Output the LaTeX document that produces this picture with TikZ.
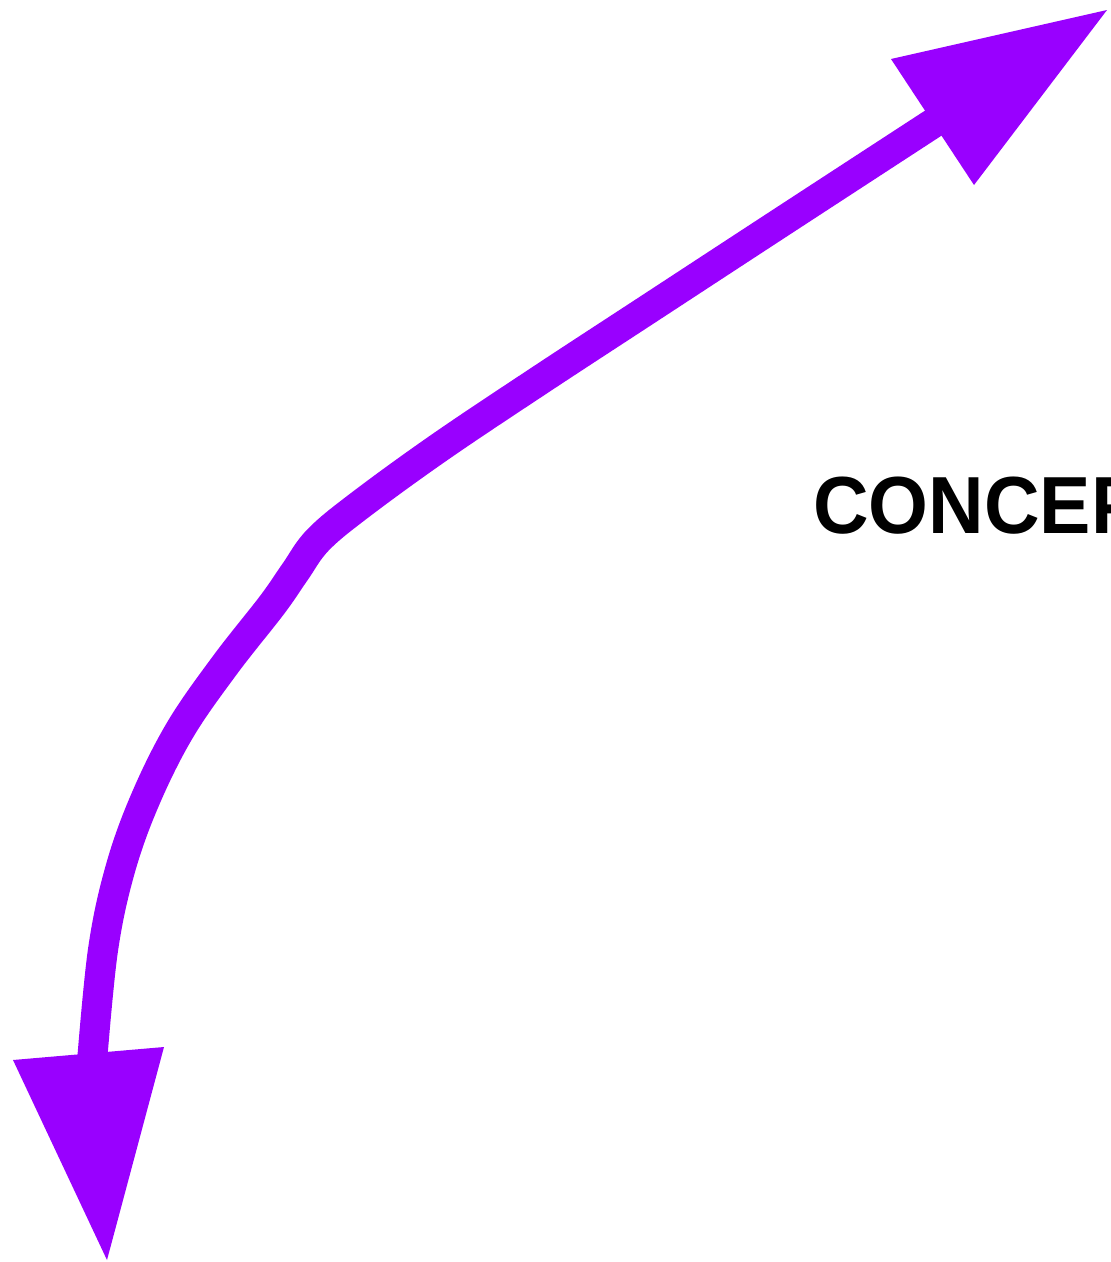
\documentclass[tikz,border=0pt]{standalone}
\usepackage{fontspec}
\setmainfont{Liberation Sans}
\definecolor{arrowpurple}{HTML}{9900FF}
\tikzset{
  shaft/.style={draw=arrowpurple, line width=30pt, line join=round},
  head/.style={fill=arrowpurple, draw=none},
  label/.style={font=\fontsize{81}{90}\selectfont\bfseries, text=black, anchor=base west, inner sep=0pt, xscale=0.95}
}
\begin{document}
\begin{tikzpicture}[x=1pt, y=-1pt]
\useasboundingbox (0,0) rectangle (1111,1262);
\clip (0,0) rectangle (1111,1262);
\draw[shaft] plot[smooth, tension=0.6] coordinates {(92,1062) (103,950) (120,870) (145,800) (180,730) (225,665) (272,605) (295,572) (318,540) (360,505) (440,447) (540,380) (650,308) (780,223) (935,122)};
\fill[head] (13,1060) -- (164,1047) -- (107,1260) -- cycle;
\fill[head] (891,59) -- (1107,10) -- (974,185) -- cycle;
\node[label] (concept) at (813,533) {CONCEPT};
\end{tikzpicture}
\end{document}
